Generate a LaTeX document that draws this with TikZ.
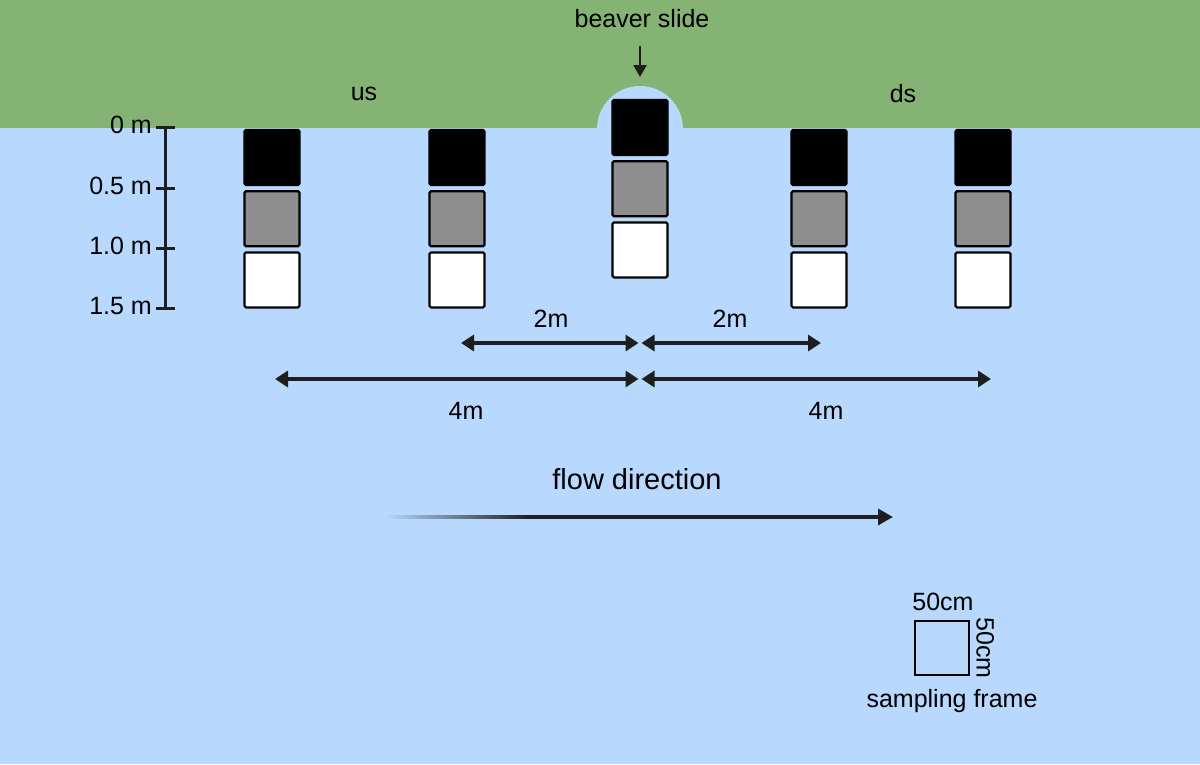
\documentclass[tikz,border=0pt]{standalone}
\usepackage{fontspec}
\setmainfont{Liberation Sans}
\usetikzlibrary{arrows.meta,positioning}
\definecolor{bank}{RGB}{133,179,115}
\definecolor{water}{RGB}{184,216,253}
\definecolor{ink}{RGB}{30,30,30}
\definecolor{midgray}{RGB}{142,142,142}
\tikzset{
  cell/.style={draw=black, line width=2.2pt, rounded corners=1.5pt, minimum size=55pt, inner sep=0pt},
  lbl/.style={font=\fontsize{25}{29}\selectfont, text=black},
  tick/.style={draw=ink, line width=3pt},
  dim/.style={draw=ink, line width=3.5pt, {Triangle[length=13pt,width=16pt]}-{Triangle[length=13pt,width=16pt]}},
}
\begin{document}
\begin{tikzpicture}[x=1pt,y=-1pt]
    \useasboundingbox (0,0) rectangle (1200,764);
    % bank and stream
    \fill[water] (0,0) rectangle (1200,764);
    \fill[bank] (0,0) rectangle (1200,128);
    \fill[water] (640,129) circle [radius=43pt];
    % sampling columns
    \foreach \x/\top [count=\i] in {272/129, 457/129, 640/99, 819/129, 983/129} {
        \node[cell, fill=black] (top\i) at (\x,\top+28.5) {};
        \node[cell, fill=midgray, below=4pt of top\i] (mid\i) {};
        \node[cell, fill=white, below=4pt of mid\i] (low\i) {};
    }
    % depth scale
    \draw[tick] (165,127) -- (165,308);
    \foreach \y/\t [count=\j] in {127/0 m, 188/0.5 m, 248/1.0 m, 308/1.5 m} {
        \draw[tick] (156,\y) -- (175,\y);
        \node[lbl, anchor=east, inner sep=0pt] (depth\j) at (152,\y-2) {\t};
    }
    % slide and banks
    \node[lbl] (slide) at (642,19) {beaver slide};
    \coordinate (slidetip) at (640,77);
    \draw[draw=ink, line width=2.5pt, -{Triangle[length=12pt,width=13pt]}, shorten <=14pt] (slide.south -| slidetip) -- (slidetip);
    \node[lbl] (us) at (364,94) {us};
    \node[lbl] (ds) at (903,94) {ds};
    % distances
    \coordinate (twoL) at (461,343);
    \coordinate (twoR) at (821,343);
    \coordinate (twoC) at (640,343);
    \coordinate (fourL) at (275,379);
    \coordinate (fourR) at (991,379);
    \coordinate (fourC) at (640,379);
    \draw[dim] (twoL) -- ([xshift=-1.5pt]twoC);
    \draw[dim] ([xshift=1.5pt]twoC) -- (twoR);
    \draw[dim] (fourL) -- ([xshift=-1.5pt]fourC);
    \draw[dim] ([xshift=1.5pt]fourC) -- (fourR);
    \node[lbl] (twoLlbl) at (551,319) {2m};
    \node[lbl] (twoRlbl) at (730,319) {2m};
    \node[lbl] (fourLlbl) at (466,411) {4m};
    \node[lbl] (fourRlbl) at (826,411) {4m};
    % flow
    \node[lbl, font=\fontsize{29}{33}\selectfont] (flow) at (637,479) {flow direction};
    \coordinate (flowA) at (530,517);
    \coordinate (flowB) at (893,517);
    \shade[left color=water, right color=ink] (385,515.3) rectangle (flowA |- 0,518.7);
    \draw[draw=ink, line width=3.4pt, -{Triangle[length=15pt,width=16pt]}] (flowA) -- (flowB);
    % sampling frame
    \node[draw=black, line width=2.5pt, minimum size=54pt, inner sep=0pt] (frame) at (942,648) {};
    \node[lbl] (frameW) at (943,602) {50cm};
    \node[lbl, rotate=-90, anchor=south, inner sep=6pt] (frameH) at (frame.east) {50cm};
    \node[lbl] (framelbl) at (952,701) {sampling frame};
\end{tikzpicture}
\end{document}
